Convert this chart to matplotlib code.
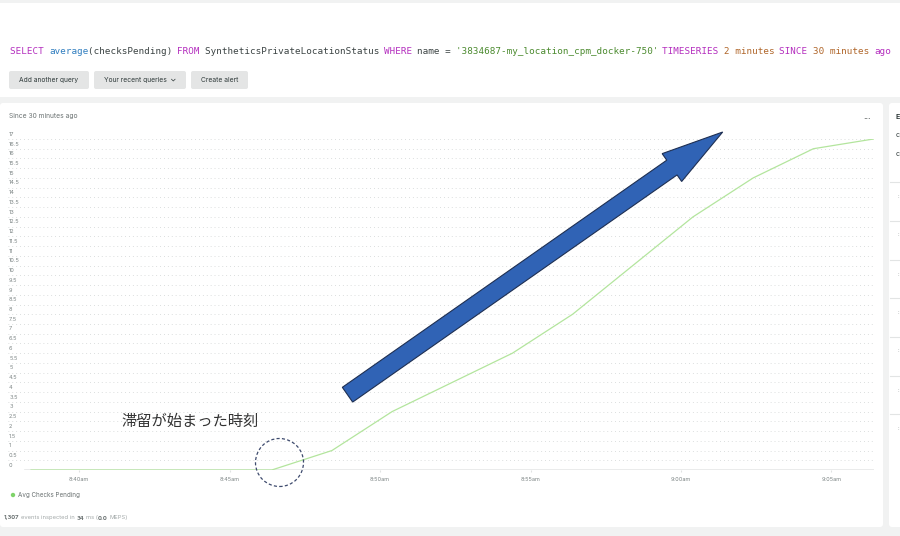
import matplotlib
matplotlib.use('Agg')
import matplotlib.pyplot as plt
import matplotlib.patches as mpatches
import matplotlib.lines as mlines
from matplotlib.transforms import IdentityTransform
import pandas as pd

plt.rcParams['font.family'] = ['Inter', 'DejaVu Sans']

# data (2 minute buckets)
times = ["08:38:24", "08:40:24", "08:42:24", "08:44:24", "08:46:24",
         "08:48:24", "08:50:24", "08:52:24", "08:54:24", "08:56:24",
         "08:58:24", "09:00:24", "09:02:24", "09:04:24", "09:06:24"]
checks_pending = [0, 0, 0, 0, 0, 1, 3, 4.5, 6, 8, 10.5, 13, 15, 16.5, 17]
y_ticks = [i * 0.5 for i in range(35)]
x_ticks = ["08:40", "08:45", "08:50", "08:55", "09:00", "09:05"]
x_labels = ["8:40am", "8:45am", "8:50am", "8:55am", "9:00am", "9:05am"]

query = [("SELECT ", "kw"), ("average", "fn"), ("(checksPending) ", "txt"),
         ("FROM ", "kw"), ("SyntheticsPrivateLocationStatus ", "txt"),
         ("WHERE ", "kw"), ("name = ", "txt"),
         ("'3834687-my_location_cpm_docker-750' ", "str"),
         ("TIMESERIES ", "kw"), ("2 minutes ", "num"), ("SINCE ", "kw"),
         ("30 minutes ", "num"), ("ago", "kw")]
qcolors = {"kw": "#b42fbf", "fn": "#2f7dbf", "txt": "#3b4343",
           "str": "#4b8a2e", "num": "#b0662a"}

W, H = 900, 536
fig = plt.figure(figsize=(W / 100, H / 100), dpi=100)
fig.patch.set_facecolor('#f1f2f2')
ID = IdentityTransform()


def fx(x):
    return x / W


def fy(y):
    return 1 - y / H


def box(x0, y0, x1, y1, color, r=2, z=-5):
    p = mpatches.FancyBboxPatch((x0, H - y1), x1 - x0, y1 - y0,
                                boxstyle="round,pad=0,rounding_size=%s" % r,
                                fc=color, ec='none', transform=ID, zorder=z)
    fig.add_artist(p)


# page panels
box(0, 3, 900, 97, 'white', 0)
box(0, 103, 883, 527, 'white', 3)
box(889, 103, 905, 527, 'white', 3)

# query line
cw = 881 / 158
pos = 0
for seg, kind in query:
    fig.text(fx(10 + pos * cw), fy(52), seg, family='DejaVu Sans Mono',
             fontsize=6.67, color=qcolors[kind], va='center', ha='left')
    pos += len(seg)

# buttons
buttons = [(9, 89, "Add another query"), (94, 186, "Your recent queries"),
           (191, 248, "Create alert")]
for x0, x1, label in buttons:
    box(x0, 71, x1, 89, '#e4e5e5', 2, z=-4)
    cx = (x0 + x1) / 2
    if label.startswith("Your"):
        cx = 135
    fig.text(fx(cx), fy(80), label, fontsize=4.8, color='#2f3a3a',
             ha='center', va='center')
fig.add_artist(mlines.Line2D([fx(171.5), fx(173.3), fx(175.1)],
                             [fy(79.2), fy(81), fy(79.2)],
                             color='#2f3a3a', lw=0.5))

# chart card texts
fig.text(fx(9), fy(116), "Since 30 minutes ago", fontsize=4.8,
         color='#6b7272', va='center')
fig.text(fx(867), fy(117), "...", fontsize=5.5, color='#3b4343',
         ha='center', va='center', fontweight='bold')

# chart
ax = fig.add_axes([fx(8), fy(470), 866 / W, (470 - 139) / H])
ax.patch.set_alpha(0)
t = pd.to_datetime(["2024-01-01 " + s for s in times])
ax.plot(t, checks_pending, color='#b3e59d', lw=0.9, zorder=3)
ax.set_xlim(pd.Timestamp("2024-01-01 08:37:38"),
            pd.Timestamp("2024-01-01 09:06:25"))
ax.set_ylim(0, 17)
for s in ax.spines.values():
    s.set_visible(False)
ax.set_yticks(y_ticks)
ax.set_yticklabels([])
ax.tick_params(axis='y', length=0)
ax.grid(axis='y', color='#d3d6d6', lw=0.7, linestyle=(0, (0.8, 3.2)))
ax.axhline(0, xmin=17 / 866, xmax=1, color='#e6e8e8', lw=1.2, zorder=2)
for v in y_ticks:
    lbl = "%g" % v
    ax.annotate(lbl, xy=(0, v), xycoords=('axes fraction', 'data'),
                xytext=(0.8, 1.6), textcoords='offset points',
                fontsize=4, color='#7d8585', ha='left', va='bottom')
ax.set_xticks(pd.to_datetime(["2024-01-01 " + s for s in x_ticks]))
ax.set_xticklabels(x_labels)
ax.tick_params(axis='x', length=1.5, color='#e0e2e2', pad=3.5,
               labelsize=4, labelcolor='#7d8585')

# legend + footer
fig.add_artist(mpatches.Circle((13, H - 495), 2.2, fc='#7fd36a', ec='none',
                               transform=ID))
fig.text(fx(18), fy(495), "Avg Checks Pending", fontsize=4.5,
         color='#6b7272', va='center')

renderer = fig.canvas.get_renderer()
# (text, bold, gap in px after it)
footer = [("1,307", True, 1.6), ("events inspected in", False, 1.6),
          ("34", True, 1.6), ("ms (", False, 0.2), ("0.0", True, 1.6),
          ("MEPS)", False, 0)]
xpos = 4
for s, bold, gap in footer:
    tx = fig.text(fx(xpos), fy(518), s, fontsize=4.2, va='center',
                  color='#6b7272' if bold else '#a3a9a9',
                  fontweight='bold' if bold else 'normal')
    xpos = tx.get_window_extent(renderer).x1 + gap

# right side panel (cut off)
for y, s, w in [(117, "E", 'bold'), (135, "c", 'normal'), (154, "c", 'normal')]:
    fig.text(fx(896), fy(y), s, fontsize=5, color='#2f3a3a', va='center',
             fontweight=w)
for y in [182, 221, 260, 298, 337, 376, 414]:
    fig.add_artist(mlines.Line2D([fx(890), fx(900)], [fy(y), fy(y)],
                                 color='#e2e4e4', lw=0.8))
    fig.text(fx(898), fy(y + 14), ":", fontsize=4, color='#6b7272',
             va='center')

# annotations drawn over the screenshot
fig.text(fx(121), fy(421), "滞留が始まった時刻",
         family=['Noto Sans CJK JP', 'DejaVu Sans'], fontsize=11,
         color='#333333', va='center', ha='left')
fig.add_artist(mpatches.Circle((279.5, H - 462.5), 24, fill=False,
                               ec='#3e4b6e', lw=0.9,
                               linestyle=(0, (2.5, 1.8)), transform=ID))
tail = (347.5, H - 394.7)
tip = (722.7, H - 132)
fig.add_artist(mpatches.FancyArrow(tail[0], tail[1], tip[0] - tail[0],
                                   tip[1] - tail[1], width=18,
                                   head_width=34, head_length=62,
                                   length_includes_head=True,
                                   fc='#3063b5', ec='#1e2f52', lw=0.8,
                                   transform=ID, zorder=5))

plt.savefig("out.png", dpi=100)
